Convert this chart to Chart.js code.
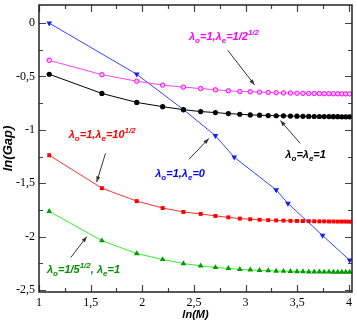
<!DOCTYPE html>
<html>
<head>
<meta charset="utf-8">
<script src="https://cdn.jsdelivr.net/npm/chart.js@4"></script>
<style>
  html, body { margin: 0; padding: 0; background: #fff; }
</style>
</head>
<body>
<canvas id="chart" width="357" height="322"></canvas>
<script>
// x = ln(M), M = 3, 5, 7, ... 55
const lnM = [1.099, 1.609, 1.946, 2.197, 2.398, 2.565, 2.708, 2.833, 2.944, 3.045, 3.135, 3.219, 3.296, 3.367,
  3.434, 3.497, 3.555, 3.611, 3.664, 3.714, 3.761, 3.807, 3.850, 3.892, 3.932, 3.970, 4.007];

const gapHalf = [-0.349, -0.483, -0.544, -0.581, -0.600, -0.613, -0.625, -0.634, -0.641, -0.643, -0.647, -0.650,
  -0.652, -0.654, -0.655, -0.657, -0.658, -0.659, -0.659, -0.660, -0.661, -0.661, -0.662, -0.662, -0.663, -0.663, -0.663];
const gapOne = [-0.479, -0.659, -0.743, -0.783, -0.811, -0.829, -0.838, -0.848, -0.854, -0.860, -0.863, -0.866,
  -0.868, -0.869, -0.871, -0.872, -0.873, -0.874, -0.875, -0.875, -0.876, -0.876, -0.877, -0.877, -0.878, -0.878, -0.878];
const gapTen = [-1.238, -1.547, -1.668, -1.733, -1.770, -1.788, -1.807, -1.820, -1.832, -1.838, -1.843, -1.846,
  -1.849, -1.851, -1.853, -1.854, -1.855, -1.856, -1.857, -1.858, -1.858, -1.859, -1.859, -1.860, -1.860, -1.860, -1.861];
const gapFifth = [-1.764, -2.039, -2.160, -2.215, -2.253, -2.275, -2.290, -2.299, -2.308, -2.313, -2.317, -2.320,
  -2.323, -2.325, -2.326, -2.328, -2.329, -2.330, -2.331, -2.331, -2.332, -2.332, -2.333, -2.333, -2.333, -2.334, -2.334];

// lambda_e = 0 has its own x points
const lnMZero = [1.099, 1.946, 2.398, 2.708, 2.890, 3.296, 3.410, 3.745, 4.007];
const gapZero = [0, -0.479, -0.810, -1.055, -1.257, -1.563, -1.690, -1.990, -2.222];

const xTicks = [1, 1.5, 2, 2.5, 3, 3.5, 4];
const yTicks = [-2.5, -2, -1.5, -1, -0.5, 0];

const toPts = (xs, ys) => xs.map((x, i) => ({ x, y: ys[i] }));
const comma = v => String(v).replace(".", ",");

// text labels: [x, y, color, parts], arrows: [x1, y1, x2, y2] in data units
const labels = [
  [2.452, -0.161, "#ff00ff", [["λ", ""], ["o", "sub"], ["=1,", ""], ["λ", ""], ["e", "sub"], ["=1/2", ""], ["1/2", "sup"]]],
  [3.385, -1.267, "#000000", [["λ", ""], ["o", "sub"], ["=", ""], ["λ", ""], ["e", "sub"], ["=1", ""]]],
  [2.125, -1.443, "#0000ff", [["λ", ""], ["o", "sub"], ["=1,", ""], ["λ", ""], ["e", "sub"], ["=0", ""]]],
  [1.288, -1.081, "#ff0000", [["λ", ""], ["o", "sub"], ["=1,", ""], ["λ", ""], ["e", "sub"], ["=10", ""], ["1/2", "sup"]]],
  [1.077, -2.345, "#009000", [["λ", ""], ["o", "sub"], ["=1/5", ""], ["1/2", "sup"], [", ", ""], ["λ", ""], ["e", "sub"], ["=1", ""]]],
];
const arrows = [
  [2.827, -0.254, 3.087, -0.579],
  [3.529, -1.127, 3.337, -0.913],
  [2.452, -1.276, 2.644, -1.081],
  [1.644, -1.220, 1.558, -1.490],
  [1.308, -2.196, 1.462, -2.001],
];

const framePlugin = {
  id: "frame",
  afterDraw(chart) {
    const { ctx, chartArea: a, scales } = chart;
    const xs = scales.x, ys = scales.y;
    ctx.save();
    // inward ticks on all four sides
    ctx.strokeStyle = "#444";
    ctx.lineWidth = 1.2;
    for (let v = 1; v <= 4.001; v += 0.25) {
      const len = Math.abs(v * 2 - Math.round(v * 2)) < 1e-6 ? 7 : 4;
      const px = Math.round(xs.getPixelForValue(v)) + 0.5;
      ctx.beginPath();
      ctx.moveTo(px, a.bottom); ctx.lineTo(px, a.bottom - len);
      ctx.moveTo(px, a.top); ctx.lineTo(px, a.top + len);
      ctx.stroke();
    }
    for (let v = -2.5; v <= 0.001; v += 0.25) {
      const len = Math.abs(v * 2 - Math.round(v * 2)) < 1e-6 ? 7 : 4;
      const py = Math.round(ys.getPixelForValue(v)) + 0.5;
      ctx.beginPath();
      ctx.moveTo(a.left, py); ctx.lineTo(a.left + len, py);
      ctx.moveTo(a.right, py); ctx.lineTo(a.right - len, py);
      ctx.stroke();
    }
    ctx.strokeStyle = "#222";
    ctx.lineWidth = 1.5;
    ctx.strokeRect(a.left, a.top, a.right - a.left, a.bottom - a.top);

    // arrows
    ctx.strokeStyle = "#333";
    ctx.fillStyle = "#333";
    ctx.lineWidth = 1;
    arrows.forEach(([x1, y1, x2, y2]) => {
      const p1 = [xs.getPixelForValue(x1), ys.getPixelForValue(y1)];
      const p2 = [xs.getPixelForValue(x2), ys.getPixelForValue(y2)];
      const ang = Math.atan2(p2[1] - p1[1], p2[0] - p1[0]);
      ctx.beginPath();
      ctx.moveTo(p1[0], p1[1]); ctx.lineTo(p2[0], p2[1]);
      ctx.stroke();
      ctx.beginPath();
      ctx.moveTo(p2[0], p2[1]);
      ctx.lineTo(p2[0] - 6 * Math.cos(ang - 0.35), p2[1] - 6 * Math.sin(ang - 0.35));
      ctx.lineTo(p2[0] - 6 * Math.cos(ang + 0.35), p2[1] - 6 * Math.sin(ang + 0.35));
      ctx.closePath();
      ctx.fill();
    });

    // labels with sub/superscripts
    ctx.textBaseline = "alphabetic";
    labels.forEach(([x, y, color, parts]) => {
      let px = xs.getPixelForValue(x);
      const py = ys.getPixelForValue(y);
      ctx.fillStyle = color;
      parts.forEach(([t, kind]) => {
        let dy = 0;
        if (kind === "sub") { ctx.font = "italic bold 8px 'Liberation Sans'"; dy = 3; }
        else if (kind === "sup") { ctx.font = "italic bold 8px 'Liberation Sans'"; dy = -5; }
        else ctx.font = "italic bold 11px 'Liberation Sans'";
        ctx.fillText(t, px, py + dy);
        px += ctx.measureText(t).width;
      });
    });
    ctx.restore();
  }
};

const series = [
  { data: toPts(lnM, gapHalf), line: "#ff40ff", fill: "#ffc0ff", edge: "#ff00ff", style: "circle", r: 2.2, bw: 1 },
  { data: toPts(lnM, gapOne), line: "#000000", fill: "#000000", edge: "#000000", style: "circle", r: 2.6, bw: 0 },
  { data: toPts(lnMZero, gapZero), line: "#3344ff", fill: "#1122ee", edge: "#1122ee", style: "triangle", r: 3.3, bw: 0, rot: 180 },
  { data: toPts(lnM, gapTen), line: "#ff3030", fill: "#ff0000", edge: "#ff0000", style: "rect", r: 2.8, bw: 0 },
  { data: toPts(lnM, gapFifth), line: "#33ee33", fill: "#009a00", edge: "#009a00", style: "triangle", r: 3.3, bw: 0 },
];

new Chart(document.getElementById("chart"), {
  type: "scatter",
  data: {
    datasets: series.map(s => ({
      data: s.data,
      showLine: true,
      borderColor: s.line,
      borderWidth: 1,
      pointStyle: s.style,
      pointRadius: s.r,
      pointRotation: s.rot || 0,
      pointBackgroundColor: s.fill,
      pointBorderColor: s.edge,
      pointBorderWidth: s.bw,
      tension: 0,
    })),
  },
  options: {
    responsive: false,
    animation: false,
    layout: { padding: { top: 2, right: 2, left: 0, bottom: 0 } },
    plugins: { legend: { display: false }, tooltip: { enabled: false } },
    scales: {
      x: {
        type: "linear",
        min: 1,
        max: 4.03,
        afterBuildTicks: s => { s.ticks = xTicks.map(value => ({ value })); },
        afterFit: s => { s.height = 30; s.paddingLeft = 0; s.paddingRight = 0; },
        grid: { display: false, drawTicks: false },
        border: { display: false },
        ticks: {
          color: "#000",
          padding: 4,
          maxRotation: 0,
          font: { family: "'Times New Roman', 'Liberation Serif', serif", size: 12 },
          callback: v => comma(v),
        },
        title: {
          display: true,
          text: "ln(M)",
          color: "#000",
          padding: { top: 0, bottom: 0 },
          font: { family: "Liberation Sans, sans-serif", size: 11, style: "italic", weight: "bold" },
        },
      },
      y: {
        type: "linear",
        min: -2.52,
        max: 0.17,
        afterBuildTicks: s => { s.ticks = yTicks.map(value => ({ value })); },
        afterFit: s => { s.width = 39; s.paddingTop = 0; s.paddingBottom = 0; },
        grid: { display: false, drawTicks: false },
        border: { display: false },
        ticks: {
          color: "#000",
          padding: 4,
          font: { family: "'Times New Roman', 'Liberation Serif', serif", size: 12 },
          callback: v => comma(v),
        },
        title: {
          display: true,
          text: "ln(Gap)",
          color: "#000",
          padding: { top: 1, bottom: 0 },
          font: { family: "Liberation Sans, sans-serif", size: 13, style: "italic", weight: "bold" },
        },
      },
    },
  },
  plugins: [framePlugin],
});
</script>
</body>
</html>
